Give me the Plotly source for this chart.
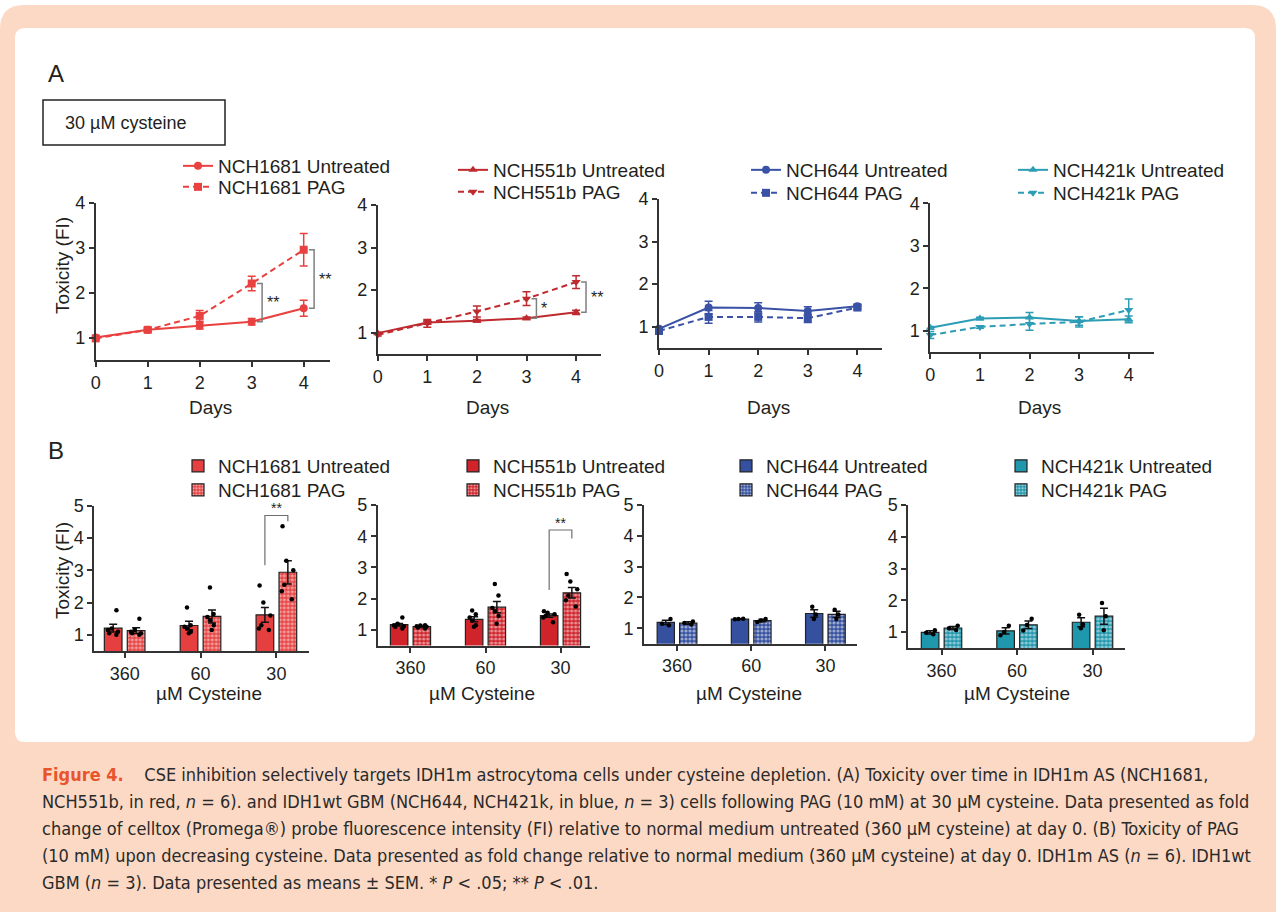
import plotly.graph_objects as go

W, H = 1276, 912
FONT = "Liberation Sans, Arial, Helvetica, sans-serif"
CAP_FONT = "Liberation Sans Narrow, DejaVu Sans Condensed, Arial Narrow, sans-serif"
TXT = "#231F20"

# ---------------- Data: panel A (30 uM cysteine, days) ----------------
days = [0, 1, 2, 3, 4]

nch1681_untr = [1.00, 1.17, 1.26, 1.35, 1.65]
nch1681_untr_sem = [0.03, 0.04, 0.07, 0.07, 0.18]
nch1681_pag = [0.98, 1.17, 1.48, 2.20, 2.95]
nch1681_pag_sem = [0.03, 0.04, 0.12, 0.16, 0.36]

nch551b_untr = [0.99, 1.24, 1.28, 1.34, 1.48]
nch551b_untr_sem = [0.02, 0.04, 0.03, 0.03, 0.05]
nch551b_pag = [0.95, 1.22, 1.50, 1.80, 2.19]
nch551b_pag_sem = [0.03, 0.09, 0.13, 0.16, 0.15]

nch644_untr = [0.95, 1.45, 1.44, 1.37, 1.48]
nch644_untr_sem = [0.03, 0.15, 0.12, 0.10, 0.05]
nch644_pag = [0.90, 1.23, 1.23, 1.20, 1.45]
nch644_pag_sem = [0.05, 0.15, 0.12, 0.10, 0.05]

nch421k_untr = [1.07, 1.29, 1.31, 1.23, 1.27]
nch421k_untr_sem = [0.03, 0.03, 0.12, 0.10, 0.08]
nch421k_pag = [0.90, 1.09, 1.16, 1.21, 1.49]
nch421k_pag_sem = [0.08, 0.03, 0.15, 0.12, 0.26]

# ---------------- Data: panel B (cysteine levels) ----------------
cysteine = ["360", "60", "30"]

b1681_untr = [1.21, 1.29, 1.62]
b1681_untr_sem = [0.12, 0.13, 0.23]
b1681_pag = [1.13, 1.57, 2.94]
b1681_pag_sem = [0.09, 0.20, 0.36]
b1681_untr_pts = [[1.76, 1.20, 1.15, 1.10, 1.05, 1.00],
                  [1.85, 1.30, 1.25, 1.20, 1.10, 1.05],
                  [2.53, 2.00, 1.60, 1.30, 1.20, 1.15]]
b1681_pag_pts = [[1.50, 1.15, 1.10, 1.05, 1.05, 1.00],
                 [2.47, 1.65, 1.55, 1.45, 1.30, 1.15],
                 [4.37, 3.30, 3.00, 2.55, 2.35, 2.10]]

b551b_untr = [1.17, 1.34, 1.46]
b551b_untr_sem = [0.04, 0.08, 0.05]
b551b_pag = [1.11, 1.73, 2.19]
b551b_pag_sem = [0.03, 0.18, 0.17]
b551b_untr_pts = [[1.40, 1.20, 1.15, 1.12, 1.10, 1.05],
                  [1.62, 1.50, 1.40, 1.30, 1.15, 1.10],
                  [1.60, 1.55, 1.50, 1.45, 1.40, 1.25]]
b551b_pag_pts = [[1.15, 1.14, 1.12, 1.10, 1.08, 1.05],
                 [2.47, 2.10, 1.70, 1.60, 1.45, 1.20],
                 [2.79, 2.55, 2.30, 2.10, 1.95, 1.75]]

b644_untr = [1.19, 1.30, 1.48]
b644_untr_sem = [0.07, 0.01, 0.12]
b644_pag = [1.17, 1.25, 1.45]
b644_pag_sem = [0.04, 0.04, 0.10]
b644_untr_pts = [[1.30, 1.15, 1.10], [1.31, 1.30, 1.29], [1.70, 1.45, 1.30]]
b644_pag_pts = [[1.22, 1.17, 1.12], [1.30, 1.25, 1.20], [1.60, 1.45, 1.30]]

b421k_untr = [0.99, 1.04, 1.31]
b421k_untr_sem = [0.05, 0.10, 0.14]
b421k_pag = [1.13, 1.23, 1.50]
b421k_pag_sem = [0.05, 0.12, 0.25]
b421k_untr_pts = [[1.06, 0.98, 0.93], [1.20, 1.00, 0.90], [1.55, 1.25, 1.12]]
b421k_pag_pts = [[1.20, 1.12, 1.07], [1.42, 1.22, 1.05], [1.92, 1.50, 1.06]]

lines_names = ["NCH1681", "NCH551b", "NCH644", "NCH421k"]

# ---------------- Styling / layout helpers ----------------
COL_A = ["#E8413F", "#BE2A2E", "#3A52A6", "#2C9DB5"]
COL_B = ["#E5403F", "#D0232A", "#34509F", "#1F97AC"]
SYM_A = [("circle", "square"), ("triangle-up", "triangle-down"),
         ("circle", "square"), ("triangle-up", "triangle-down")]


def X(px):
    return px / W


def Y(py):
    return 1 - py / H


def rr_path(x0, y0, x1, y1, r):
    return (f"M {X(x0 + r)},{Y(y0)} L {X(x1 - r)},{Y(y0)} Q {X(x1)},{Y(y0)} {X(x1)},{Y(y0 + r)} "
            f"L {X(x1)},{Y(y1 - r)} Q {X(x1)},{Y(y1)} {X(x1 - r)},{Y(y1)} "
            f"L {X(x0 + r)},{Y(y1)} Q {X(x0)},{Y(y1)} {X(x0)},{Y(y1 - r)} "
            f"L {X(x0)},{Y(y0 + r)} Q {X(x0)},{Y(y0)} {X(x0 + r)},{Y(y0)} Z")


# pixel boxes: (x_left, x_right, y_bottom, y_top)
A_BOX = [(95.7, 329.7, 360, 202.5), (377.7, 600.9, 354, 205),
         (659, 882.2, 348, 199), (930.3, 1153.5, 352, 203.3)]
B_BOX = [(94.3, 309, 651, 505.8), (377.7, 590, 645.6, 505),
         (644, 857.3, 643.7, 505), (908.3, 1125.3, 648, 505)]
B_XR = [[-0.40, 2.43], [-0.437, 2.393], [-0.445, 2.43], [-0.44, 2.434]]

# legend rows: (text_x, row1_y, row2_y)
A_LEG = [(218, 166, 187), (493, 170, 192), (786, 170, 193), (1053, 170, 193)]
B_LEG = [(218, 466, 490), (493, 466, 490), (766, 466, 490), (1041, 466, 490)]
LEG_DX = 40

A_DATA = [
    (nch1681_untr, nch1681_untr_sem, nch1681_pag, nch1681_pag_sem),
    (nch551b_untr, nch551b_untr_sem, nch551b_pag, nch551b_pag_sem),
    (nch644_untr, nch644_untr_sem, nch644_pag, nch644_pag_sem),
    (nch421k_untr, nch421k_untr_sem, nch421k_pag, nch421k_pag_sem),
]
B_DATA = [
    (b1681_untr, b1681_untr_sem, b1681_pag, b1681_pag_sem, b1681_untr_pts, b1681_pag_pts),
    (b551b_untr, b551b_untr_sem, b551b_pag, b551b_pag_sem, b551b_untr_pts, b551b_pag_pts),
    (b644_untr, b644_untr_sem, b644_pag, b644_pag_sem, b644_untr_pts, b644_pag_pts),
    (b421k_untr, b421k_untr_sem, b421k_pag, b421k_pag_sem, b421k_untr_pts, b421k_pag_pts),
]

# significance marks (annotation positions)
SIG_A = {0: [(3, "**"), (4, "**")], 1: [(3, "*"), (4, "**")]}
SIG_B = {0: (2, 3.16, 4.70, 4.52), 1: (2, 2.28, 4.2, 3.93)}

BARGAP, GROUPGAP = 0.395, 0.23

fig = go.Figure()
layout = dict(width=W, height=H, margin=dict(l=0, r=0, t=0, b=0, autoexpand=False),
              paper_bgcolor="white", plot_bgcolor="rgba(0,0,0,0)",
              showlegend=True, hovermode=False,
              barmode="group", bargap=BARGAP, bargroupgap=GROUPGAP,
              boxmode="group", boxgap=BARGAP, boxgroupgap=GROUPGAP,
              font=dict(family=FONT, size=18, color=TXT))
shapes = []
annotations = []


def ann(text, x, y, size=19, family=FONT, xanchor="center", yanchor="middle", **kw):
    d = dict(text=text, xref="paper", yref="paper", x=X(x), y=Y(y), xanchor=xanchor,
             yanchor=yanchor, showarrow=False, font=dict(size=size, family=family, color=TXT))
    d.update(kw)
    annotations.append(d)


shapes.append(dict(type="path", xref="paper", yref="paper", path=rr_path(0, 5, 1276, 940, 24),
                   fillcolor="#FCD9C4", line=dict(width=0), layer="below"))
shapes.append(dict(type="path", xref="paper", yref="paper", path=rr_path(15, 28, 1255, 742, 10),
                   fillcolor="white", line=dict(width=0), layer="below"))
shapes.append(dict(type="rect", xref="paper", yref="paper", x0=X(43), x1=X(225), y0=Y(145), y1=Y(100),
                   line=dict(color="#222", width=1.5), fillcolor="rgba(0,0,0,0)"))

axis_common = dict(showline=True, linecolor="#333", linewidth=1.8, ticks="outside", ticklen=5,
                   tickwidth=1.5, tickcolor="#333", showgrid=False, zeroline=False,
                   tickfont=dict(family=FONT, size=18, color=TXT), fixedrange=True)

leg_count = [0]


def new_legend(text_x, row_y):
    leg_count[0] += 1
    n = leg_count[0]
    key = "legend" if n == 1 else f"legend{n}"
    layout[key] = dict(x=X(text_x - LEG_DX), y=Y(row_y), xanchor="left", yanchor="middle",
                       bgcolor="rgba(0,0,0,0)", borderwidth=0, itemwidth=30,
                       font=dict(family=FONT, size=19, color=TXT))
    return key


# ---------------- Panel A ----------------
for i in range(4):
    ax_n = i + 1
    xa = "x" if ax_n == 1 else f"x{ax_n}"
    ya = "y" if ax_n == 1 else f"y{ax_n}"
    xl, xr, yb, yt = A_BOX[i]
    layout["xaxis" if ax_n == 1 else f"xaxis{ax_n}"] = dict(
        axis_common, domain=[X(xl), X(xr)], range=[0, 4.5], tickvals=days, anchor=ya)
    layout["yaxis" if ax_n == 1 else f"yaxis{ax_n}"] = dict(
        axis_common, domain=[Y(yb), Y(yt)], range=[0.5, 4], dtick=1, tick0=0, anchor=xa)
    untr, untr_sem, pag, pag_sem = A_DATA[i]
    c = COL_A[i]
    tx, r1, r2 = A_LEG[i]
    fig.add_trace(go.Scatter(
        x=days, y=untr, mode="lines+markers", name=f"{lines_names[i]} Untreated",
        line=dict(color=c, width=2), marker=dict(symbol=SYM_A[i][0], size=8, color=c),
        error_y=dict(type="data", array=untr_sem, color=c, thickness=1.5, width=4),
        xaxis=xa, yaxis=ya, cliponaxis=False, legend=new_legend(tx, r1)))
    fig.add_trace(go.Scatter(
        x=days, y=pag, mode="lines+markers", name=f"{lines_names[i]} PAG",
        line=dict(color=c, width=2, dash="6px,4px"), marker=dict(symbol=SYM_A[i][1], size=8, color=c),
        error_y=dict(type="data", array=pag_sem, color=c, thickness=1.5, width=4),
        xaxis=xa, yaxis=ya, cliponaxis=False, legend=new_legend(tx, r2)))
    ann("Days", (xl + xr) / 2 - 2, 407)
    for d, lab in SIG_A.get(i, []):
        bx = d + 0.2
        shapes.append(dict(type="path", xref=xa, yref=ya,
                           path=f"M {bx - 0.1},{pag[d]} L {bx},{pag[d]} L {bx},{untr[d]} L {bx - 0.1},{untr[d]}",
                           line=dict(color="#7F7F7F", width=1.5)))
        annotations.append(dict(text=lab, xref=xa, yref=ya, x=bx, y=(pag[d] + untr[d]) / 2,
                                xanchor="left", yanchor="middle", xshift=3, showarrow=False,
                                font=dict(size=16, family=FONT, color=TXT)))

# ---------------- Panel B ----------------
off = (1 - BARGAP) / 4
for i in range(4):
    ax_n = i + 5
    xa, ya = f"x{ax_n}", f"y{ax_n}"
    xl, xr, yb, yt = B_BOX[i]
    layout[f"xaxis{ax_n}"] = dict(axis_common, domain=[X(xl), X(xr)], type="category",
                                  range=B_XR[i], anchor=ya)
    layout[f"yaxis{ax_n}"] = dict(axis_common, domain=[Y(yb), Y(yt)], range=[0.5, 5], dtick=1,
                                  tick0=0, anchor=xa)
    untr, untr_sem, pag, pag_sem, untr_pts, pag_pts = B_DATA[i]
    c = COL_B[i]
    tx, r1, r2 = B_LEG[i]
    grp = f"g{i}"
    fig.add_trace(go.Bar(
        x=cysteine, y=untr, name=f"{lines_names[i]} Untreated",
        marker=dict(color=c, line=dict(color="#222", width=1.2)),
        error_y=dict(type="data", array=untr_sem, color="#111", thickness=1.5, width=4),
        alignmentgroup=grp, offsetgroup="u",
        xaxis=xa, yaxis=ya, legend=new_legend(tx, r1)))
    fig.add_trace(go.Bar(
        x=cysteine, y=pag, name=f"{lines_names[i]} PAG",
        marker=dict(color=c, line=dict(color="#222", width=1.2),
                    pattern=dict(shape=".", fgcolor="white", bgcolor=c, size=4, solidity=0.5)),
        error_y=dict(type="data", array=pag_sem, color="#111", thickness=1.5, width=4),
        alignmentgroup=grp, offsetgroup="p",
        xaxis=xa, yaxis=ya, legend=new_legend(tx, r2)))
    for pts, og in ((untr_pts, "u"), (pag_pts, "p")):
        fig.add_trace(go.Box(
            x=[cat for cat, g in zip(cysteine, pts) for _ in g],
            y=[v for g in pts for v in g],
            boxpoints="all", jitter=0.7, pointpos=0,
            marker=dict(color="black", size=4.5),
            line=dict(width=0, color="rgba(0,0,0,0)"), fillcolor="rgba(0,0,0,0)",
            alignmentgroup=grp, offsetgroup=og,
            showlegend=False, xaxis=xa, yaxis=ya))
    ann("µM Cysteine", [209, 482, 749, 1017][i], 693)
    if i in SIG_B:
        k, yl, ytop, yr = SIG_B[i]
        shapes.append(dict(type="path", xref=xa, yref=ya,
                           path=f"M {k - off},{yl} L {k - off},{ytop} L {k + off},{ytop} L {k + off},{yr}",
                           line=dict(color="#6F6F6F", width=1.2)))
        annotations.append(dict(text="**", xref=xa, yref=ya, x=k, y=ytop, xanchor="center",
                                yanchor="bottom", yshift=-3, showarrow=False,
                                font=dict(size=14, family=FONT, color=TXT)))

# ---------------- Text labels ----------------
for yc in (265, 570):
    ann("Toxicity (FI)", 62, yc, textangle=-90)
ann("A", 46, 73, size=24, xanchor="left")
ann("B", 46, 450, size=24, xanchor="left")
ann("30 µM cysteine", 63, 123, size=18, xanchor="left")

caption = [
    '<span style="color:#E8552D"><b>Figure 4.</b></span>\u00a0\u00a0\u00a0\u00a0CSE inhibition selectively targets IDH1m astrocytoma cells under cysteine depletion. (A) Toxicity over time in IDH1m AS (NCH1681,',
    "NCH551b, in red, <i>n</i> = 6). and IDH1wt GBM (NCH644, NCH421k, in blue, <i>n</i> = 3) cells following PAG (10 mM) at 30 µM cysteine. Data presented as fold",
    "change of celltox (Promega®) probe fluorescence intensity (FI) relative to normal medium untreated (360 µM cysteine) at day 0. (B) Toxicity of PAG",
    "(10 mM) upon decreasing cysteine. Data presented as fold change relative to normal medium (360 µM cysteine) at day 0. IDH1m AS (<i>n</i> = 6). IDH1wt",
    "GBM (<i>n</i> = 3). Data presented as means ± SEM. * <i>P</i> < .05; ** <i>P</i> < .01.",
]
for j, line in enumerate(caption):
    annotations.append(dict(text=line, xref="paper", yref="paper", x=X(40), y=Y(774 + 27 * j),
                            xanchor="left", yanchor="middle", showarrow=False,
                            font=dict(size=18, family=CAP_FONT, color="#2A2A2A")))

layout["shapes"] = shapes
layout["annotations"] = annotations
fig.update_layout(**layout)
fig.write_html("out.html", config={"displayModeBar": False},
               post_script="document.body.style.margin='0';document.body.style.overflow='hidden';")
